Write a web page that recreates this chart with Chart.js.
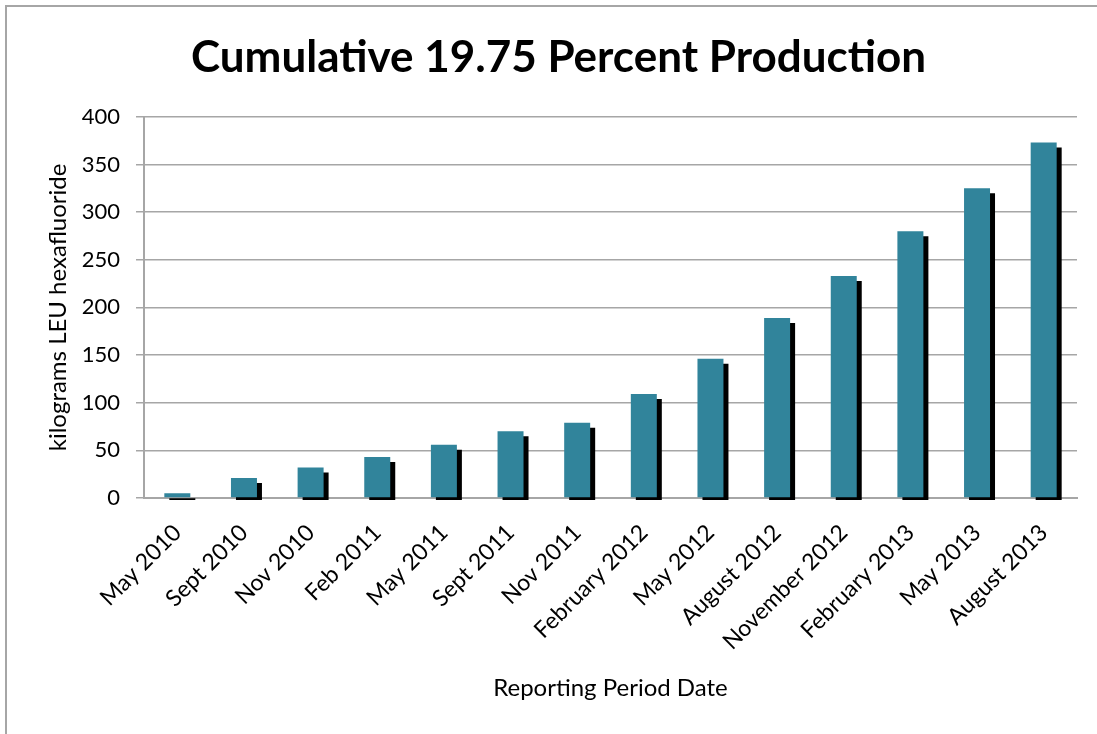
<!DOCTYPE html>
<html>
<head>
<meta charset="utf-8">
<script src="https://cdn.jsdelivr.net/npm/chart.js@4/dist/chart.umd.min.js"></script>
<style>
  html, body { margin: 0; padding: 0; background: #fff; }
  #wrap { position: relative; width: 1097px; height: 734px; overflow: hidden; }
  #frame { position: absolute; left: 5px; top: 5px; right: -10px; bottom: -10px;
           border-top: 2px solid #a6a6a6; border-left: 2px solid #a6a6a6; }
  canvas { position: absolute; left: 0; top: 0; }
</style>
</head>
<body>
<div id="wrap">
  <div id="frame"></div>
  <canvas id="chart" width="1097" height="734"></canvas>
</div>
<script>
// Reporting periods and cumulative kg of 19.75% LEU hexafluoride
var periods = [
  "May 2010", "Sept 2010", "Nov 2010", "Feb 2011", "May 2011", "Sept 2011", "Nov 2011",
  "February 2012", "May 2012", "August 2012", "November 2012", "February 2013", "May 2013", "August 2013"
];
var kilograms = [5, 21, 32, 43, 56, 70, 79, 109, 146, 189, 233, 280, 325, 373];
var yTicks = [0, 50, 100, 150, 200, 250, 300, 350, 400];

var font = "Lato, 'Liberation Sans', sans-serif";
var gridGray = "#a6a6a6";

// black drop shadow under each bar, like the Excel original
var barShadow = {
  id: "barShadow",
  beforeDatasetDraw: function (chart) {
    var ctx = chart.ctx;
    ctx.save();
    ctx.shadowColor = "#000";
    ctx.shadowOffsetX = 5;
    ctx.shadowOffsetY = 5;
    ctx.shadowBlur = 0;
  },
  afterDatasetDraw: function (chart) {
    chart.ctx.restore();
  }
};

new Chart(document.getElementById("chart"), {
  type: "bar",
  data: {
    labels: periods,
    datasets: [{
      label: "Cumulative production",
      data: kilograms,
      backgroundColor: "#31849B",
      borderWidth: 0,
      barPercentage: 0.39,
      categoryPercentage: 1,
      clip: { left: 0, top: 0, right: 10, bottom: 2 }
    }]
  },
  options: {
    responsive: false,
    animation: false,
    devicePixelRatio: 1,
    layout: { padding: { left: 40, right: 20, top: 20, bottom: 29 } },
    plugins: {
      legend: { display: false },
      tooltip: { enabled: false },
      title: {
        display: true,
        text: "Cumulative 19.75 Percent Production",
        color: "#000",
        font: { family: font, size: 44, weight: "bold" },
        padding: { top: 11, bottom: 33 }
      }
    },
    scales: {
      x: {
        grid: { display: false, drawTicks: false },
        border: { display: true, color: gridGray, width: 2 },
        ticks: {
          color: "#000",
          font: { family: font, size: 23 },
          minRotation: 45,
          maxRotation: 45,
          padding: 21,
          autoSkip: false
        },
        title: {
          display: true,
          text: "Reporting Period Date",
          color: "#000",
          font: { family: font, size: 24 },
          padding: { top: 4, bottom: 2 }
        },
        afterFit: function (s) { s.height = 207; }
      },
      y: {
        min: 0,
        max: 400,
        afterBuildTicks: function (s) {
          s.ticks = yTicks.map(function (v) { return { value: v }; });
        },
        grid: { color: gridGray, lineWidth: 1.5, tickLength: 8 },
        border: { display: true, color: gridGray, width: 2 },
        ticks: {
          color: "#000",
          font: { family: font, size: 22 },
          padding: 16
        },
        title: {
          display: true,
          text: "kilograms LEU hexafluoride",
          color: "#000",
          font: { family: font, size: 24 },
          padding: { top: 4, bottom: 4 }
        },
        afterFit: function (s) { s.width = 104; }
      }
    }
  },
  plugins: [barShadow]
});
</script>
</body>
</html>
